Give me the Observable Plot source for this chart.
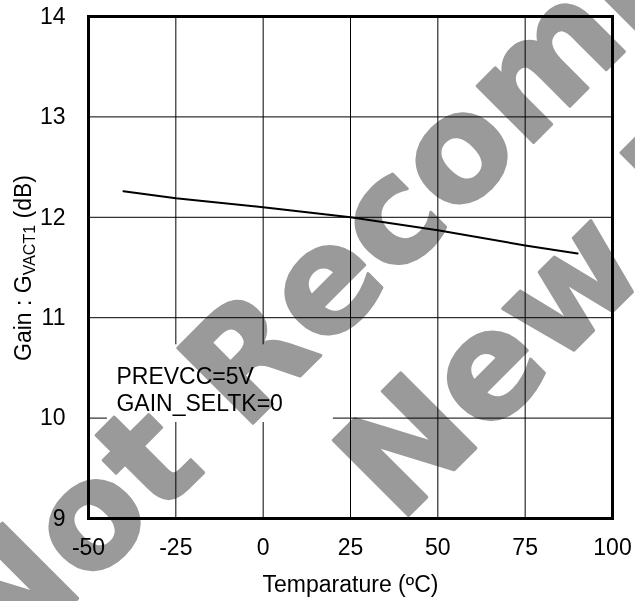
<!DOCTYPE html>
<html>
<head>
<meta charset="utf-8">
<script src="https://cdn.jsdelivr.net/npm/d3@7"></script>
<script src="https://cdn.jsdelivr.net/npm/@observablehq/plot@0.6"></script>
<style>
  body { margin: 0; background: #fff; }
  #chart svg { display: block; }
</style>
</head>
<body>
<div id="chart"></div>
<script>
// Data
const temperature = [-40, -25, 0, 25, 50, 75, 90];
const gainDb = [12.26, 12.19, 12.10, 12.00, 11.87, 11.72, 11.64];

const xTicks = [-50, -25, 0, 25, 50, 75, 100];
const yTicks = [9, 10, 11, 12, 13, 14];
const xGrid = [-25, 0, 25, 50, 75];
const yGrid = [10, 11, 12, 13];

const xLabel = "Temparature (ºC)";
const annotationLines = ["PREVCC=5V", "GAIN_SELTK=0"];
const watermarkLines = ["Not Recommended for", "New Designs"];

// annotation background box (data coordinates)
const annotationBox = [{x1: -44.6, x2: 20.1, y1: 9.956, y2: 10.73}];
const annotationText = [{x: -42, y: 10.534, text: annotationLines.join("\n")}];

const data = temperature.map((t, i) => ({t, g: gainDb[i]}));

const font = "'Liberation Sans', Arial, sans-serif";
const wmFont = "'DejaVu Sans', sans-serif";
const fmt = d => String(d);

const wmStyle = {
  frameAnchor: "top-left", rotate: -45,
  textAnchor: "middle", lineAnchor: "middle",
  fontSize: 146, fontWeight: "bold", fontFamily: wmFont,
  fill: "#9a9a9a", stroke: "#9a9a9a", strokeWidth: 3, strokeLinejoin: "round",
  mixBlendMode: "multiply"
};

const chart = Plot.plot({
  width: 635,
  height: 601,
  marginLeft: 88,
  marginRight: 23,
  marginTop: 16,
  marginBottom: 83,
  style: {fontFamily: font, fontSize: "23px", color: "#000", background: "#fff", overflow: "hidden"},
  x: {domain: [-50, 100]},
  y: {domain: [9, 14]},
  marks: [
    Plot.gridX(xGrid, {stroke: "#000", strokeOpacity: 1, strokeWidth: 1}),
    Plot.gridY(yGrid, {stroke: "#000", strokeOpacity: 1, strokeWidth: 1}),
    Plot.rect(annotationBox, {x1: "x1", x2: "x2", y1: "y1", y2: "y2", fill: "#fff"}),
    Plot.axisX(xTicks, {tickSize: 0, tickPadding: 20, label: null, fontSize: 23, tickFormat: fmt}),
    Plot.axisY(yTicks, {tickSize: 0, tickPadding: 23, label: null, fontSize: 23, tickFormat: fmt}),
    Plot.text([xLabel], {frameAnchor: "bottom", dy: 57, lineAnchor: "top", fontSize: 23, fill: "#000"}),
    Plot.text(annotationText, {x: "x", y: "y", text: "text", textAnchor: "start", lineAnchor: "top", lineHeight: 1.17, fontSize: 23, fill: "#000"}),
    Plot.line(data, {x: "t", y: "g", stroke: "#000", strokeWidth: 2}),
    Plot.frame({stroke: "#000", strokeWidth: 3}),
    Plot.text([watermarkLines[0]], {...wmStyle, dx: 531, dy: -26}),
    Plot.text([watermarkLines[1]], {...wmStyle, dx: 652, dy: 101})
  ]
});

// Y-axis title with subscript
const svg = d3.select(chart);
const yt = svg.append("text")
  .attr("transform", "translate(31,268) rotate(-90)")
  .attr("text-anchor", "middle")
  .attr("font-family", font)
  .attr("font-size", 23)
  .attr("fill", "#000");
yt.append("tspan").text("Gain : G");
yt.append("tspan").attr("font-size", 16).attr("dy", 4).text("VACT1");
yt.append("tspan").attr("dy", -4).text(" (dB)");

// keep the watermark layers on top of everything
const textGroups = chart.querySelectorAll("g[aria-label='text']");
chart.appendChild(textGroups[textGroups.length - 2]);
chart.appendChild(textGroups[textGroups.length - 1]);

document.getElementById("chart").appendChild(chart);
</script>
</body>
</html>
